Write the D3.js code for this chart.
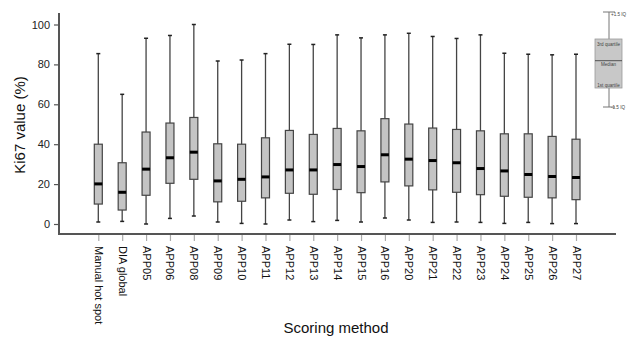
<!DOCTYPE html>
<html>
<head>
<meta charset="utf-8">
<script src="https://cdn.jsdelivr.net/npm/d3@7"></script>
<style>
  body { margin: 0; background: #fff; }
  svg { display: block; font-family: Arial, "Liberation Sans", sans-serif; }
</style>
</head>
<body>
<div id="plotdiv"></div>
<script>
// data
const methods = ["Manual hot spot", "DIA global", "APP05", "APP06", "APP08", "APP09", "APP10", "APP11",
  "APP12", "APP13", "APP14", "APP15", "APP16", "APP20", "APP21", "APP22", "APP23", "APP24", "APP25", "APP26", "APP27"];
const lowWhisker = [1.0, 1.3, 0, 2.8, 4.0, 1.0, 0.3, 0, 2.0, 1.2, 1.8, 1.0, 3.0, 2.0, 0.8, 1.0, 0.8, 0.3, 0.8, 0.2, 0.2];
const q1 = [10.0, 7.0, 14.4, 20.4, 22.4, 11.1, 11.4, 13.1, 15.4, 14.9, 17.3, 15.7, 21.1, 19.1, 17.1, 15.9, 14.7, 13.9, 13.4, 13.1, 12.2];
const median = [20.1, 15.9, 27.5, 33.2, 36.0, 21.6, 22.4, 23.6, 27.1, 27.1, 29.8, 28.8, 34.7, 32.5, 31.8, 30.7, 27.8, 26.6, 24.8, 23.8, 23.3];
const q3 = [40.0, 30.7, 46.1, 50.6, 53.4, 40.2, 40.0, 43.2, 46.9, 44.9, 47.9, 46.7, 52.8, 50.1, 48.1, 47.4, 46.7, 45.2, 45.2, 43.9, 42.5];
const highWhisker = [85.4, 65.0, 93.1, 94.5, 100, 81.7, 82.2, 85.4, 90.1, 90.0, 94.8, 93.3, 94.8, 95.6, 94.0, 93.0, 94.8, 85.6, 85.1, 84.8, 85.1];
const yTicks = [0, 20, 40, 60, 80, 100];
const keyLabels = ["+1.5 IQ", "3rd quartile", "Median", "1st quartile", "-1.5 IQ"];

const width = 627, height = 337;
const svg = d3.select("#plotdiv").append("svg")
  .attr("width", width).attr("height", height);

const x = d3.scalePoint().domain(methods).range([98.3, 576]);
const y = d3.scaleLinear().domain([0, 100]).range([224, 24.5]);

const axisCol = "#555";

// axes lines
svg.append("line").attr("x1", 59).attr("x2", 59).attr("y1", 13).attr("y2", 234.5)
  .attr("stroke", axisCol).attr("stroke-width", 2);
svg.append("line").attr("x1", 58).attr("x2", 616).attr("y1", 234).attr("y2", 234)
  .attr("stroke", axisCol).attr("stroke-width", 2);

// y axis
const yAxis = svg.append("g").attr("transform", "translate(59,0)")
  .call(d3.axisLeft(y).tickValues(yTicks).tickSize(5).tickPadding(4));
yAxis.select(".domain").remove();
yAxis.selectAll(".tick line").attr("stroke", axisCol).attr("stroke-width", 1.2);
yAxis.selectAll(".tick text").attr("font-size", 11).attr("fill", "#222");

// x axis
const xAxis = svg.append("g").attr("transform", "translate(0,235)")
  .call(d3.axisBottom(x).tickSize(6).tickPadding(0));
xAxis.select(".domain").remove();
xAxis.selectAll(".tick line").attr("stroke", "#aaa").attr("stroke-width", 1.2);
xAxis.selectAll(".tick text")
  .attr("font-size", 11).attr("fill", "#111")
  .attr("text-anchor", "start").attr("dy", null)
  .attr("transform", "translate(-4,11) rotate(90)")
  .attr("x", 0).attr("y", 0);

// axis titles
svg.append("text").attr("transform", "translate(25,125) rotate(-90)")
  .attr("text-anchor", "middle").attr("font-size", 15).attr("fill", "#111")
  .text("Ki67 value (%)");
svg.append("text").attr("x", 336).attr("y", 333)
  .attr("text-anchor", "middle").attr("font-size", 15).attr("fill", "#111")
  .text("Scoring method");

// boxes
const boxW = 8, capW = 4;
const g = svg.append("g");
methods.forEach((m, i) => {
  const cx = x(m);
  g.append("line").attr("x1", cx).attr("x2", cx)
    .attr("y1", y(highWhisker[i])).attr("y2", y(lowWhisker[i]))
    .attr("stroke", "#444").attr("stroke-width", 1.3);
  [highWhisker[i], lowWhisker[i]].forEach(v => {
    g.append("line").attr("x1", cx - capW / 2).attr("x2", cx + capW / 2)
      .attr("y1", y(v)).attr("y2", y(v))
      .attr("stroke", "#222").attr("stroke-width", 1.5);
  });
  g.append("rect").attr("x", cx - boxW / 2).attr("y", y(q3[i]))
    .attr("width", boxW).attr("height", y(q1[i]) - y(q3[i]))
    .attr("fill", "#c4c4c4").attr("stroke", "#444").attr("stroke-width", 1.2);
  g.append("line").attr("x1", cx - boxW / 2).attr("x2", cx + boxW / 2)
    .attr("y1", y(median[i])).attr("y2", y(median[i]))
    .attr("stroke", "#000").attr("stroke-width", 3);
});

// key
const k = d3.scaleLinear().domain([0, 4]).range([12, 107]);
const kx = 609;
const key = svg.append("g");
key.append("line").attr("x1", kx).attr("x2", kx).attr("y1", k(0)).attr("y2", k(4))
  .attr("stroke", "#777").attr("stroke-width", 1);
[0, 4].forEach(j => key.append("line").attr("x1", kx - 6).attr("x2", kx + 6)
  .attr("y1", k(j)).attr("y2", k(j)).attr("stroke", "#777").attr("stroke-width", 1));
key.append("rect").attr("x", 595).attr("y", 39).attr("width", 27).attr("height", 49)
  .attr("fill", "#c8c8c8").attr("stroke", "#999").attr("stroke-width", 0.8);
key.append("line").attr("x1", 595).attr("x2", 622).attr("y1", 60.7).attr("y2", 60.7)
  .attr("stroke", "#333").attr("stroke-width", 0.8);
const keyPos = [[611, 16, "start"], [608.5, 45.5, "middle"], [608.5, 66, "middle"], [608.5, 86.5, "middle"], [611, 109, "start"]];
keyLabels.forEach((t, j) => key.append("text")
  .attr("x", keyPos[j][0]).attr("y", keyPos[j][1]).attr("text-anchor", keyPos[j][2])
  .attr("font-size", 4.6).attr("fill", "#444").text(t));
</script>
</body>
</html>
